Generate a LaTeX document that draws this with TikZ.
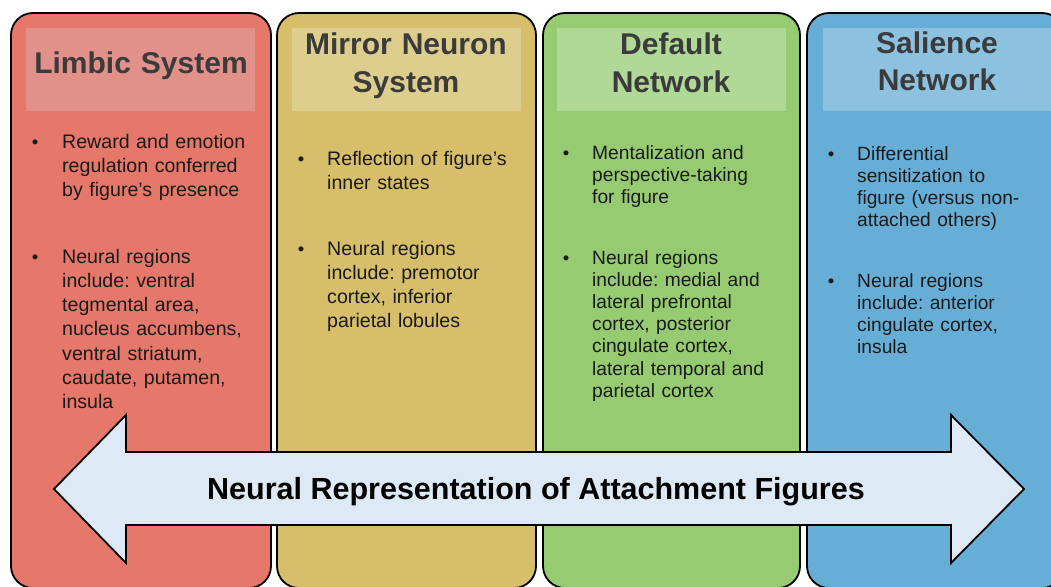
\documentclass[tikz,border=0pt]{standalone}
\usepackage{fontspec}
\setmainfont{Liberation Sans}
\usepackage{xcolor}
\usetikzlibrary{positioning}
\frenchspacing

\definecolor{limbicred}{RGB}{229,120,107}
\definecolor{limbichead}{RGB}{226,144,138}
\definecolor{mirroryellow}{RGB}{214,190,106}
\definecolor{mirrorhead}{RGB}{222,206,142}
\definecolor{defaultgreen}{RGB}{151,203,114}
\definecolor{defaulthead}{RGB}{176,216,150}
\definecolor{salienceblue}{RGB}{103,174,214}
\definecolor{saliencehead}{RGB}{140,193,224}
\definecolor{bannerblue}{RGB}{221,234,246}
\definecolor{headgray}{RGB}{59,59,59}
\definecolor{itemblack}{RGB}{26,26,26}

\begin{document}
\begin{tikzpicture}[x=1pt, y=-1pt, % 1pt = 1px, y runs down
  panel/.style={draw=black, line width=1.8pt, rounded corners=22pt},
  headtext/.style={font=\bfseries\fontsize{30}{37.5}\selectfont, text=headgray,
    anchor=base, inner sep=0pt, text width=229pt, align=center},
  bulletdot/.style={font=\fontsize{18.5}{24.3}\selectfont, text=itemblack, anchor=base, inner sep=0pt},
  itemtext/.style={font=\fontsize{19.6}{24.3}\selectfont, text=itemblack,
    anchor=base west, inner sep=0pt, text width=205pt, align=left},
  itemsmall/.style={itemtext, font=\fontsize{19.2}{22.2}\selectfont}]

  \useasboundingbox (0,0) rectangle (1051,586);
  \clip (0,0) rectangle (1051,586);

  % Panels
  \draw[panel, fill=limbicred]    (11,13)  rectangle (271,588);
  \draw[panel, fill=mirroryellow] (277,13) rectangle (536,588);
  \draw[panel, fill=defaultgreen] (543,13) rectangle (800,588);
  \draw[panel, fill=salienceblue] (807,13) rectangle (1064,588);

  % Heading boxes
  \fill[limbichead]   (26,28)  rectangle (255,111);
  \fill[mirrorhead]   (292,28) rectangle (521,111);
  \fill[defaulthead]  (557,28) rectangle (786,111);
  \fill[saliencehead] (823,28) rectangle (1052,111);

  \node[headtext] (limbic)   at (141,74) {Limbic System};
  \node[headtext] (mirror)   at (406,55) {Mirror Neuron\\System};
  \node[headtext] (default)  at (671,55) {Default\\Network};
  \node[headtext] (salience) at (937,53) {Salience\\Network};

  % Limbic system items
  \node[bulletdot] (limbic dot1) at (35,148) {\textbullet};
  \node[itemtext]  (limbic item1) at (62,148) {Reward and emotion\\regulation conferred\\by figure’s presence};
  \node[bulletdot] (limbic dot2) at (35,263) {\textbullet};
  \node[itemtext]  (limbic item2) at (62,263) {Neural regions\\include: ventral\\tegmental area,\\nucleus accumbens,\\ventral striatum,\\caudate, putamen,\\insula};

  % Mirror neuron items
  \node[bulletdot] (mirror dot1) at (301,165) {\textbullet};
  \node[itemtext]  (mirror item1) at (327,165) {Reflection of figure’s\\inner states};
  \node[bulletdot] (mirror dot2) at (301,255) {\textbullet};
  \node[itemtext]  (mirror item2) at (327,255) {Neural regions\\include: premotor\\cortex, inferior\\parietal lobules};

  % Default network items
  \node[bulletdot] (default dot1) at (566,159) {\textbullet};
  \node[itemsmall] (default item1) at (592,159) {Mentalization and\\perspective-taking\\for figure};
  \node[bulletdot] (default dot2) at (566,264) {\textbullet};
  \node[itemsmall] (default item2) at (592,264) {Neural regions\\include: medial and\\lateral prefrontal\\cortex, posterior\\cingulate cortex,\\lateral temporal and\\parietal cortex};

  % Salience network items
  \node[bulletdot] (salience dot1) at (831,160) {\textbullet};
  \node[itemsmall] (salience item1) at (857,160) {Differential\\sensitization to\\figure (versus non-\\attached others)};
  \node[bulletdot] (salience dot2) at (831,287) {\textbullet};
  \node[itemsmall] (salience item2) at (857,287) {Neural regions\\include: anterior\\cingulate cortex,\\insula};

  % Double arrow across the panels
  \draw[fill=bannerblue, line width=1.8pt, line join=miter]
    (54,489) -- (126,415) -- (126,452) -- (951,452) -- (951,415) -- (1024,489)
    -- (951,563) -- (951,525) -- (126,525) -- (126,563) -- cycle;
  \node[font=\bfseries\fontsize{30.5}{36}\selectfont, anchor=base, inner sep=0pt]
    (banner) at (536,499) {Neural Representation of Attachment Figures};
\end{tikzpicture}
\end{document}
